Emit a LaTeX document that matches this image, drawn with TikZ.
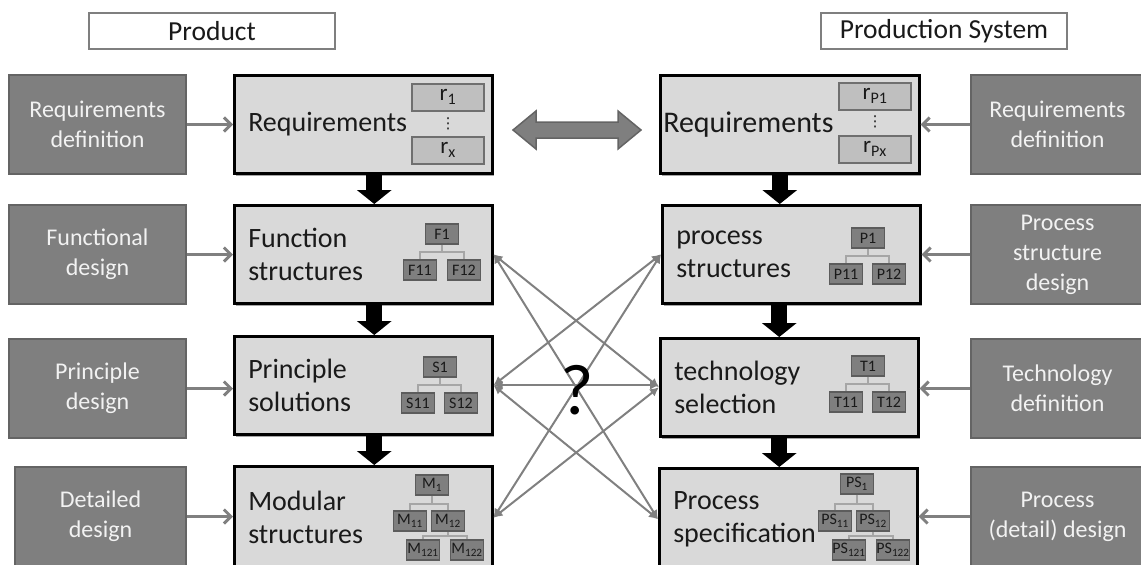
\documentclass[tikz,border=0pt]{standalone}
\usepackage{fontspec}
\setmainfont{Carlito}
\newfontfamily\dejavu{DejaVu Sans}
\usetikzlibrary{arrows.meta,shadows,calc}
\definecolor{maingray}{HTML}{D9D9D9}
\definecolor{boxgray}{HTML}{7F7F7F}
\definecolor{boxborder}{HTML}{646464}
\definecolor{subfill}{HTML}{7F7F7F}
\definecolor{subborder}{HTML}{5C5C5C}
\definecolor{rfill}{HTML}{BFBFBF}
\definecolor{rborder}{HTML}{6F6F6F}
\definecolor{treegray}{HTML}{A6A6A6}
\definecolor{linegray}{HTML}{808080}
\definecolor{textdark}{HTML}{1A1A1A}
\definecolor{textlight}{HTML}{F2F2F2}
\begin{document}
\begin{tikzpicture}[x=1pt,y=-1pt,
  mainbox/.style={draw=black, line width=2.5pt, fill=maingray, anchor=north west,
    minimum height=98pt, text width=230pt, inner xsep=14pt, inner ysep=0pt,
    align=left, text=textdark, font=\fontsize{28}{33}\selectfont,
    drop shadow={shadow xshift=2pt, shadow yshift=-3pt, opacity=0.35, fill=black}},
  graybox/.style={draw=boxborder, line width=2pt, fill=boxgray, anchor=north west,
    minimum height=99pt, inner sep=0pt, align=center, text=textlight,
    font=\fontsize{24}{30}\selectfont},
  titlebox/.style={draw=boxgray, line width=2pt, fill=white, anchor=north west,
    minimum width=246pt, minimum height=36pt, inner sep=0pt, text=textdark,
    font=\fontsize{27.5}{27.5}\selectfont},
  sub/.style={draw=subborder, fill=subfill, line width=1.5pt, minimum width=33pt,
    minimum height=20pt, inner sep=0pt, text=textdark, font=\fontsize{16}{16}\selectfont},
  rbox/.style={draw=rborder, fill=rfill, line width=2pt, minimum width=72pt,
    minimum height=27pt, inner sep=0pt, text=textdark, font=\fontsize{23}{23}\selectfont},
  vdotsnode/.style={inner sep=0pt, text=textdark, font=\dejavu\fontsize{15}{15}\selectfont},
  treeline/.style={draw=treegray, line width=1.5pt},
  sidearr/.style={draw=linegray, line width=3pt, -{Straight Barb[length=7pt,width=14pt]}},
  crossarr/.style={draw=linegray, line width=2pt, {Latex[length=9pt,width=9pt]}-{Latex[length=9pt,width=9pt]}},
  blockarr/.style={draw=black, line width=16pt, -{Triangle[width=34pt,length=14pt]}}
]
\useasboundingbox (0,0) rectangle (1141,565);

% titles
\node[titlebox] (tprod) at (88,12) {Product};
\node[titlebox] (tsys) at (820,12) {Production System};

% left gray boxes
\node[graybox, minimum width=177pt] (rdL) at (8,74) {Requirements\\definition};
\node[graybox, minimum width=177pt] (fd) at (8,204) {Functional\\design};
\node[graybox, minimum width=177pt] (pd) at (8,338) {Principle\\design};
\node[graybox, minimum width=171pt] (dd) at (14,466) {Detailed\\design};

% right gray boxes
\node[graybox, minimum width=173pt] (rdR) at (970,74) {Requirements\\definition};
\node[graybox, minimum width=173pt] (psd) at (970,204) {Process\\structure\\design};
\node[graybox, minimum width=173pt] (td) at (970,338) {Technology\\definition};
\node[graybox, minimum width=173pt] (pdd) at (970,466) {Process\\(detail) design};

% left main boxes
\node[mainbox, text width=230pt] (reqL) at (233,74) {Requirements};
\node[mainbox] (fs) at (233,204) {Function\\structures};
\node[mainbox] (ps) at (233,335) {Principle\\solutions};
\node[mainbox, minimum height=103pt] (ms) at (233,465) {Modular\\structures};

% right main boxes
\node[mainbox, text width=253pt, inner xsep=3pt, font=\fontsize{30}{33}\selectfont] (reqR) at (659,74) {Requirements};
\node[mainbox] (prs) at (661,204) {process\\structures};
\node[mainbox] (ts) at (659,337) {technology\\selection};
\node[mainbox, minimum height=102pt] (spec) at (658,467) {Process\\specification};

% requirement items
\node[rbox] (r1) at (448,97) {r\textsubscript{1}};
\node[rbox] (rx) at (448,150) {r\textsubscript{x}};
\node[vdotsnode] (dl) at (448,124) {⋮};
\node[rbox] (rp1) at (875,96) {r\textsubscript{P1}};
\node[rbox] (rpx) at (875,149) {r\textsubscript{Px}};
\node[vdotsnode] (dr) at (875,122) {⋮};

% function tree
\node[sub] (F1) at (442,234) {F1};
\node[sub] (F11) at (420,270) {F11};
\node[sub] (F12) at (464,270) {F12};
\draw[treeline] (F1.south) -- ++(0,7) -| (F11.north);
\draw[treeline] (F1.south) -- ++(0,7) -| (F12.north);

% principle tree
\node[sub] (S1) at (440,367) {S1};
\node[sub] (S11) at (418,403) {S11};
\node[sub] (S12) at (461,403) {S12};
\draw[treeline] (S1.south) -- ++(0,7) -| (S11.north);
\draw[treeline] (S1.south) -- ++(0,7) -| (S12.north);

% modular tree
\node[sub] (M1) at (432,485) {M\textsubscript{1}};
\node[sub] (M11) at (410,521) {M\textsubscript{11}};
\node[sub] (M12) at (448,521) {M\textsubscript{12}};
\node[sub] (M121) at (423,550) {M\textsubscript{121}};
\node[sub] (M122) at (467,550) {M\textsubscript{122}};
\draw[treeline] (M1.south) -- ++(0,8) -| (M11.north);
\draw[treeline] (M1.south) -- ++(0,8) -| (M12.north);
\draw[treeline] (M12.south) -- ++(0,4) -| (M121.north);
\draw[treeline] (M12.south) -- ++(0,4) -| (M122.north);

% process tree
\node[sub] (P1) at (868,238) {P1};
\node[sub] (P11) at (846,274) {P11};
\node[sub] (P12) at (889,274) {P12};
\draw[treeline] (P1.south) -- ++(0,7) -| (P11.north);
\draw[treeline] (P1.south) -- ++(0,7) -| (P12.north);

% technology tree
\node[sub] (T1) at (868,366) {T1};
\node[sub] (T11) at (846,402) {T11};
\node[sub] (T12) at (889,402) {T12};
\draw[treeline] (T1.south) -- ++(0,7) -| (T11.north);
\draw[treeline] (T1.south) -- ++(0,7) -| (T12.north);

% process spec tree
\node[sub] (PS1) at (857,484) {PS\textsubscript{1}};
\node[sub] (PS11) at (835,521) {PS\textsubscript{11}};
\node[sub] (PS12) at (873,521) {PS\textsubscript{12}};
\node[sub] (PS121) at (849,550) {PS\textsubscript{121}};
\node[sub] (PS122) at (893,550) {PS\textsubscript{122}};
\draw[treeline] (PS1.south) -- ++(0,9) -| (PS11.north);
\draw[treeline] (PS1.south) -- ++(0,9) -| (PS12.north);
\draw[treeline] (PS12.south) -- ++(0,4) -| (PS121.north);
\draw[treeline] (PS12.south) -- ++(0,4) -| (PS122.north);

% side arrows
\draw[sidearr] (rdL.east) -- (rdL.east -| reqL.west);
\draw[sidearr] (fd.east) -- (fd.east -| fs.west);
\draw[sidearr] (pd.east) -- (pd.east -| ps.west);
\draw[sidearr] (dd.east) -- (dd.east -| ms.west);
\draw[sidearr] (rdR.west) -- (rdR.west -| reqR.east);
\draw[sidearr] (psd.west) -- (psd.west -| prs.east);
\draw[sidearr] (td.west) -- (td.west -| ts.east);
\draw[sidearr] (pdd.west) -- (pdd.west -| spec.east);

% block arrows
\draw[blockarr] ([xshift=11pt]reqL.south) -- ([xshift=11pt]reqL.south |- fs.north);
\draw[blockarr] ([xshift=11pt]fs.south) -- ([xshift=11pt]fs.south |- ps.north);
\draw[blockarr] ([xshift=11pt]ps.south) -- ([xshift=11pt]ps.south |- ms.north);
\draw[blockarr] ([xshift=-10pt]reqR.south) -- ([xshift=-10pt]reqR.south |- prs.north);
\draw[blockarr] ([xshift=-12pt]prs.south) -- ([xshift=-12pt]prs.south |- ts.north);
\draw[blockarr] ([xshift=-10pt]ts.south) -- ([xshift=-10pt]ts.south |- spec.north);

% double arrow between requirements
\filldraw[fill=boxgray, draw=boxborder, line width=1.5pt]
  (513,130) -- (536,111) -- (536,122) -- (618,122) -- (618,111) -- (641,130)
  -- (618,149) -- (618,138) -- (536,138) -- (536,149) -- cycle;

% cross connectors
\draw[crossarr] (fs.east) -- (ts.west);
\draw[crossarr] (fs.east) -- (spec.west);
\draw[crossarr] (ps.east) -- (prs.west);
\draw[crossarr] (ps.east) -- (ps.east -| ts.west);
\draw[crossarr] (ps.east) -- (spec.west);
\draw[crossarr] (ms.east) -- (prs.west);
\draw[crossarr] (ms.east) -- (ts.west);

\node[font=\fontsize{72}{72}\selectfont, text=black] (q) at (577,390) {?};
\end{tikzpicture}
\end{document}
